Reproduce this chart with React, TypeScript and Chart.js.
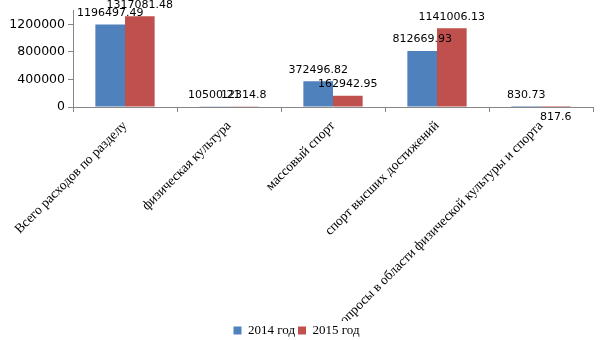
import React, { useEffect, useRef } from "react";
import { Chart, registerables } from "chart.js";

Chart.register(...registerables);

const categories = [
  "Всего расходов по разделу",
  "физическая культура",
  "массовый спорт",
  "спорт высших достижений",
  "Другие вопросы в области физической культуры и спорта",
];
const series2014 = [1196497.49, 10500.21, 372496.82, 812669.93, 830.73];
const series2015 = [1317081.48, 12314.8, 162942.95, 1141006.13, 817.6];
const labels2014 = ["1196497.49", "10500.21", "372496.82", "812669.93", "830.73"];
const labels2015 = ["1317081.48", "12314.8", "162942.95", "1141006.13", "817.6"];
const yTicks = [0, 400000, 800000, 1200000];
const seriesNames = ["2014 год", "2015 год"];

const valueLabels = {
  id: "valueLabels",
  afterDatasetsDraw(chart: any) {
    const ctx = chart.ctx;
    const texts = [labels2014, labels2015];
    ctx.save();
    ctx.font = "11px 'DejaVu Sans'";
    ctx.fillStyle = "#000";
    ctx.textAlign = "center";
    ctx.textBaseline = "middle";
    chart.data.datasets.forEach((ds: any, di: number) => {
      const meta = chart.getDatasetMeta(di);
      meta.data.forEach((bar: any, i: number) => {
        const below = di === 1 && i === 4;
        const y = below ? bar.base + 11 : bar.y - 11.5;
        ctx.fillText(texts[di][i], bar.x, y);
      });
    });
    ctx.restore();
  },
};

export default function App() {
  const ref = useRef<HTMLCanvasElement>(null);
  useEffect(() => {
    const chart = new Chart(ref.current!, {
      type: "bar",
      data: {
        labels: categories,
        datasets: [
          { label: seriesNames[0], data: series2014, backgroundColor: "#4F81BD" },
          { label: seriesNames[1], data: series2015, backgroundColor: "#C0504D" },
        ],
      },
      options: {
        responsive: false,
        animation: false,
        layout: { padding: { top: 6, right: 12, left: 0, bottom: -7 } },
        datasets: { bar: { barPercentage: 1, categoryPercentage: 0.57 } },
        plugins: {
          tooltip: { enabled: false },
          legend: {
            position: "bottom",
            labels: {
              boxWidth: 8,
              boxHeight: 8,
              padding: 3,
              color: "#000",
              font: { family: "'Liberation Serif'", size: 13 },
            },
          },
        },
        scales: {
          x: {
            grid: {
              display: true,
              offset: true,
              drawOnChartArea: false,
              drawTicks: true,
              tickLength: 5,
              color: "#868686",
            },
            border: { display: true, color: "#868686" },
            ticks: {
              autoSkip: false,
              maxRotation: 45,
              minRotation: 45,
              padding: 6,
              color: "#000",
              font: { family: "'Liberation Serif'", size: 13.5 },
            },
            afterFit(scale: any) {
              scale.height = 214;
            },
          },
          y: {
            min: 0,
            max: 1400000,
            grid: {
              display: true,
              drawOnChartArea: false,
              drawTicks: true,
              tickLength: 5,
              color: "#868686",
            },
            border: { display: true, color: "#868686" },
            ticks: {
              padding: 3,
              color: "#000",
              font: { family: "'DejaVu Sans'", size: 12.5 },
              callback: (v: any) => String(v),
            },
            afterBuildTicks(scale: any) {
              scale.ticks = yTicks.map((v) => ({ value: v }));
            },
            afterFit(scale: any) {
              scale.width = 73;
            },
          },
        },
      },
      plugins: [valueLabels],
    });
    return () => chart.destroy();
  }, []);
  return (
    <div style={{ position: "absolute", left: 0, top: 0, width: 605, height: 340 }}>
      <canvas ref={ref} width={605} height={340} />
    </div>
  );
}
